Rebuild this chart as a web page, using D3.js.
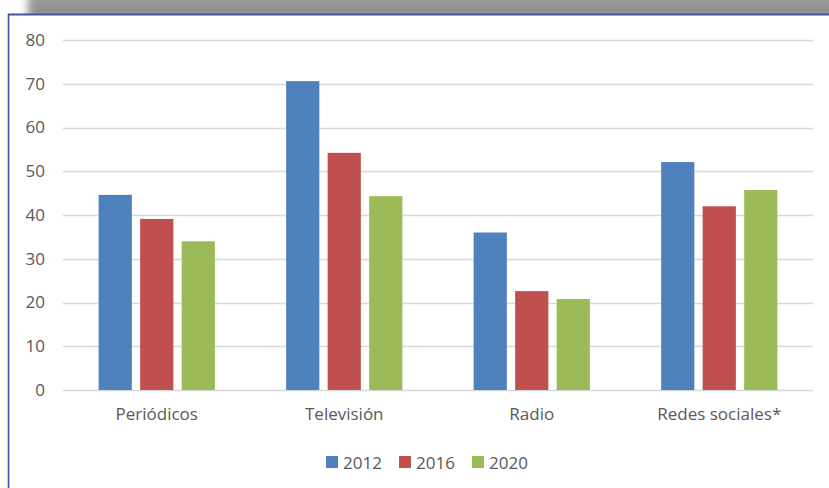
<!DOCTYPE html>
<html>
<head>
<meta charset="utf-8">
<script src="https://cdn.jsdelivr.net/npm/d3@7"></script>
<style>
  html, body { margin: 0; padding: 0; background: #fff; }
  svg { display: block; }
  text { font-family: "Open Sans", "Noto Sans", sans-serif; fill: #595959; }
</style>
</head>
<body>
<svg id="chart" width="829" height="488"></svg>
<script>
// Media categories and yearly values (%)
const categories = ["Periódicos", "Televisión", "Radio", "Redes sociales*"];
const years = ["2012", "2016", "2020"];
const values2012 = [44.6, 70.6, 36.0, 52.1];
const values2016 = [39.1, 54.2, 22.6, 42.0];
const values2020 = [34.0, 44.3, 20.8, 45.7];
const yTicks = [0, 10, 20, 30, 40, 50, 60, 70, 80];
const colors = ["#4f81bd", "#c0504d", "#9bbb59"];

const seriesValues = [values2012, values2016, values2020];

const svg = d3.select("#chart");
const W = 829, H = 488;

// Drop shadow behind the frame's top edge
const defs = svg.append("defs");
defs.append("filter").attr("id", "soft")
  .attr("x", "-20%").attr("y", "-100%").attr("width", "140%").attr("height", "300%")
  .append("feGaussianBlur").attr("stdDeviation", 4.5);
const sg = defs.append("linearGradient").attr("id", "shade")
  .attr("x1", 0).attr("y1", 0).attr("x2", 0).attr("y2", 1);
sg.append("stop").attr("offset", 0).attr("stop-color", "#b0b0b0");
sg.append("stop").attr("offset", 1).attr("stop-color", "#858585");

svg.append("rect").attr("x", 28).attr("y", -20).attr("width", W + 40).attr("height", 40)
  .attr("fill", "url(#shade)").attr("filter", "url(#soft)");

// Chart frame
svg.append("rect").attr("x", 8).attr("y", 14).attr("width", W).attr("height", H)
  .attr("fill", "#fff");
svg.append("line").attr("x1", 8).attr("x2", W).attr("y1", 14.5).attr("y2", 14.5)
  .attr("stroke", "#3c559e").attr("stroke-width", 2);
svg.append("line").attr("x1", 8.5).attr("x2", 8.5).attr("y1", 14).attr("y2", H)
  .attr("stroke", "#3c559e").attr("stroke-width", 1.6);

// Scales
const x0 = d3.scaleBand().domain(categories).range([63, 813]).paddingInner(0).paddingOuter(0);
const groupW = x0.step() * 0.62;
const x1 = d3.scaleBand().domain(years).range([0, groupW]).paddingInner(0.2).paddingOuter(0);
const y = d3.scaleLinear().domain([0, 80]).range([390, 40]);

// Gridlines
svg.append("g").selectAll("line").data(yTicks).join("line")
  .attr("x1", 63).attr("x2", 813)
  .attr("y1", d => Math.round(y(d)) + 0.5).attr("y2", d => Math.round(y(d)) + 0.5)
  .attr("stroke", "#d9d9d9").attr("stroke-width", 1.6);

// Y axis labels
const yAxis = d3.axisLeft(y).tickValues(yTicks).tickSize(0).tickPadding(0);
const gy = svg.append("g").attr("transform", "translate(45,0)").call(yAxis);
gy.select(".domain").remove();
gy.selectAll("text").attr("font-size", 17).style("fill", "#595959")
  .style("font-family", "'Open Sans', sans-serif");

// Bars
const groups = svg.append("g").selectAll("g").data(categories).join("g")
  .attr("transform", c => `translate(${x0(c) + (x0.step() - groupW) / 2},0)`);
groups.selectAll("rect")
  .data((c, i) => years.map((yr, s) => ({ yr, v: seriesValues[s][i], s })))
  .join("rect")
  .attr("x", d => x1(d.yr))
  .attr("width", x1.bandwidth())
  .attr("y", d => y(d.v))
  .attr("height", d => y(0) - y(d.v))
  .attr("fill", d => colors[d.s]);

// Category labels
const xAxis = d3.axisBottom(x0).tickSize(0).tickPadding(0);
const gx = svg.append("g").attr("transform", "translate(0,408)").call(xAxis);
gx.select(".domain").remove();
gx.selectAll("text").attr("font-size", 17).style("fill", "#595959")
  .style("font-family", "'Open Sans', sans-serif");

// Legend
const legendX = [326, 399, 472];
const lg = svg.append("g").selectAll("g").data(years).join("g")
  .attr("transform", (d, i) => `translate(${legendX[i]},456)`);
lg.append("rect").attr("width", 12).attr("height", 12).attr("fill", (d, i) => colors[i]);
lg.append("text").attr("x", 17).attr("y", 12.5).attr("font-size", 17).text(d => d);
</script>
</body>
</html>
